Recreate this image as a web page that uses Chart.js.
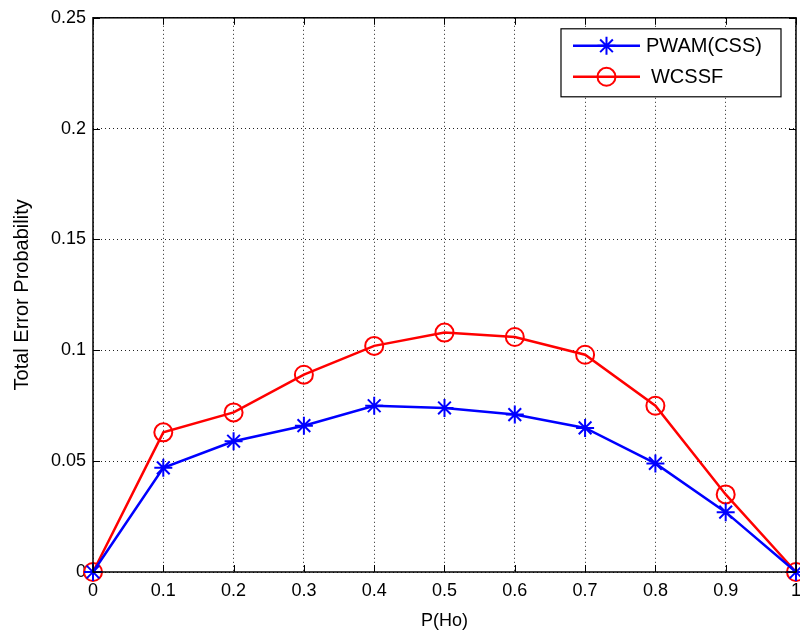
<!DOCTYPE html>
<html>
<head>
<meta charset="utf-8">
<script src="https://cdn.jsdelivr.net/npm/chart.js@4/dist/chart.umd.min.js"></script>
<style>
  html, body { margin: 0; padding: 0; background: #fff; overflow: hidden; }
  /* canvas a bit wider than the page so the last x label is cut like in the figure */
  #wrap { width: 800px; height: 632px; overflow: hidden; }
</style>
</head>
<body>
<div id="wrap"><canvas id="errChart" width="809" height="632"></canvas></div>
<script>
// values
const pHo = [0, 0.1, 0.2, 0.3, 0.4, 0.5, 0.6, 0.7, 0.8, 0.9, 1];
const pwamCss = [0, 0.047, 0.059, 0.066, 0.075, 0.074, 0.071, 0.065, 0.049, 0.027, 0];
const wcssf = [0, 0.063, 0.072, 0.089, 0.102, 0.108, 0.106, 0.098, 0.075, 0.035, 0];
const xTicks = [0, 0.1, 0.2, 0.3, 0.4, 0.5, 0.6, 0.7, 0.8, 0.9, 1];
const yTicks = [0, 0.05, 0.1, 0.15, 0.2, 0.25];

const FONT = '"Liberation Sans", Arial, sans-serif';

const toPoints = (xs, ys) => xs.map((x, i) => ({x: x, y: ys[i]}));

// matlab style box, inward ticks and legend
const matlabBox = {
    id: 'matlabBox',
    afterDraw(chart) {
        const ctx = chart.ctx;
        const a = chart.chartArea;
        const xs = chart.scales.x;
        const ys = chart.scales.y;
        ctx.save();
        ctx.strokeStyle = '#000';
        ctx.lineWidth = 1.5;
        ctx.strokeRect(a.left, a.top, a.right - a.left, a.bottom - a.top);
        ctx.beginPath();
        xTicks.forEach((t) => {
            const px = Math.round(xs.getPixelForValue(t)) + 0.5;
            ctx.moveTo(px, a.bottom); ctx.lineTo(px, a.bottom - 7);
            ctx.moveTo(px, a.top); ctx.lineTo(px, a.top + 7);
        });
        yTicks.forEach((t) => {
            const py = Math.round(ys.getPixelForValue(t)) + 0.5;
            ctx.moveTo(a.left, py); ctx.lineTo(a.left + 7, py);
            ctx.moveTo(a.right, py); ctx.lineTo(a.right - 7, py);
        });
        ctx.lineWidth = 1;
        ctx.stroke();

        // legend
        const bx = a.right - 235, by = a.top + 11, bw = 220, bh = 68;
        ctx.fillStyle = '#fff';
        ctx.fillRect(bx, by, bw, bh);
        ctx.lineWidth = 1.2;
        ctx.strokeStyle = '#000';
        ctx.strokeRect(bx, by, bw, bh);
        chart.data.datasets.forEach((ds, i) => {
            const ly = by + 17 + i * 31;
            const x0 = bx + 12, x1 = bx + 79, mx = (x0 + x1) / 2;
            ctx.strokeStyle = ds.borderColor;
            ctx.lineWidth = 2.5;
            ctx.beginPath();
            ctx.moveTo(x0, ly); ctx.lineTo(x1, ly);
            ctx.stroke();
            ctx.lineWidth = 2;
            ctx.beginPath();
            if (ds.pointStyle === 'circle') {
                ctx.arc(mx, ly, 9, 0, Math.PI * 2);
            } else {
                for (let k = 0; k < 4; k++) {
                    const ang = k * Math.PI / 4;
                    ctx.moveTo(mx - 9 * Math.cos(ang), ly - 9 * Math.sin(ang));
                    ctx.lineTo(mx + 9 * Math.cos(ang), ly + 9 * Math.sin(ang));
                }
            }
            ctx.stroke();
            ctx.fillStyle = '#000';
            ctx.font = '20px ' + FONT;
            ctx.textBaseline = 'middle';
            ctx.fillText(ds.label, bx + 85 + (i ? 5 : 0), ly + 1);
        });
        ctx.restore();
    }
};

const errChart = new Chart(document.getElementById('errChart'), {
    type: 'scatter',
    data: {
        datasets: [{
            label: 'PWAM(CSS)',
            data: toPoints(pHo, pwamCss),
            showLine: true,
            borderColor: 'rgb(0, 0, 255)',
            backgroundColor: 'rgb(0, 0, 255)',
            borderWidth: 2.5,
            pointStyle: 'star',
            pointRadius: 9,
            pointBorderWidth: 2,
            pointBorderColor: 'rgb(0, 0, 255)'
        },
        {
            label: 'WCSSF',
            data: toPoints(pHo, wcssf),
            showLine: true,
            borderColor: 'rgb(255, 0, 0)',
            backgroundColor: 'rgba(0, 0, 0, 0)',
            borderWidth: 2.5,
            pointStyle: 'circle',
            pointRadius: 9,
            pointBorderWidth: 2,
            pointBorderColor: 'rgb(255, 0, 0)'
        }]
    },
    options: {
        responsive: false,
        animation: false,
        clip: false,
        layout: {
            padding: {top: 17, right: 2, left: 0, bottom: 0}
        },
        plugins: {
            legend: {display: false},
            tooltip: {enabled: false}
        },
        scales: {
            x: {
                type: 'linear',
                min: 0,
                max: 1,
                afterBuildTicks: (scale) => { scale.ticks = xTicks.map((v) => ({value: v})); },
                afterFit: (scale) => { scale.height = 60; },
                grid: {
                    color: '#222',
                    lineWidth: 1,
                    drawTicks: false
                },
                border: {display: false, dash: [1, 3]},
                ticks: {
                    color: '#000',
                    padding: 8,
                    font: {family: FONT, size: 18},
                    callback: (v) => String(v)
                },
                title: {
                    display: true,
                    text: 'P(Ho)',
                    color: '#000',
                    padding: {top: 0, bottom: 0},
                    font: {family: FONT, size: 18}
                }
            },
            y: {
                min: 0,
                max: 0.25,
                afterBuildTicks: (scale) => { scale.ticks = yTicks.map((v) => ({value: v})); },
                afterFit: (scale) => { scale.width = 93; },
                grid: {
                    color: '#222',
                    lineWidth: 1,
                    drawTicks: false
                },
                border: {display: false, dash: [1, 3]},
                ticks: {
                    color: '#000',
                    padding: 7,
                    font: {family: FONT, size: 18},
                    callback: (v) => String(v)
                },
                title: {
                    display: true,
                    text: 'Total Error Probability',
                    color: '#000',
                    padding: {top: 10, bottom: 0},
                    font: {family: FONT, size: 20}
                }
            }
        }
    },
    plugins: [matlabBox]
});
</script>
</body>
</html>
